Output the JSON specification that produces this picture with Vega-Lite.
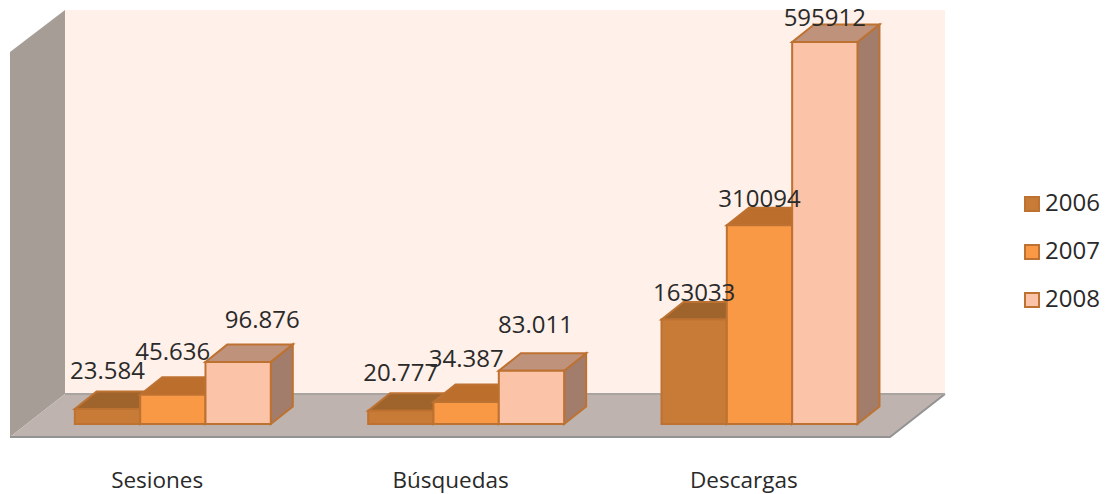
{
"$schema":"https://vega.github.io/schema/vega-lite/v6.json",
"width":1110,"height":494,"padding":0,"autosize":{"type":"none"},"background":"white",
"config":{"view":{"stroke":null},"font":"Open Sans"},
"data":{"values":[
{"category":"Sesiones","year":"2006","value":23584,"label":"23.584"},
{"category":"Sesiones","year":"2007","value":45636,"label":"45.636"},
{"category":"Sesiones","year":"2008","value":96876,"label":"96.876"},
{"category":"Búsquedas","year":"2006","value":20777,"label":"20.777"},
{"category":"Búsquedas","year":"2007","value":34387,"label":"34.387"},
{"category":"Búsquedas","year":"2008","value":83011,"label":"83.011"},
{"category":"Descargas","year":"2006","value":163033,"label":"163033"},
{"category":"Descargas","year":"2007","value":310094,"label":"310094"},
{"category":"Descargas","year":"2008","value":595912,"label":"595912"}
]},
"transform":[
{"calculate":"indexof(['Sesiones','Búsquedas','Descargas'],datum.category)+0.221+indexof(['2006','2007','2008'],datum.year)*0.2227","as":"xL"},
{"calculate":"datum.xL+0.2227","as":"xR"},
{"calculate":"datum.xL+0.11135","as":"xM"},
{"calculate":"datum.category+datum.year","as":"bar"},
{"calculate":"0","as":"zero"}
],
"layer":[
{"data":{"values":[{"u":0.1875,"u2":3.1875,"v":46800,"v2":645866}]},
 "mark":{"type":"rect","fill":"#FFF0E9"},
 "encoding":{"x":{"field":"u","type":"quantitative","scale":{"domain":[-0.0341,3.75],"nice":false,"zero":false},
   "axis":{"values":[0.5,1.5,2.5],"title":null,"domain":false,"ticks":false,"grid":false,"labelFontSize":22.5,"labelColor":"#2A2A2A","labelPadding":-25,"labelBaseline":"top","labelExpr":"['Sesiones','Búsquedas','Descargas'][floor(datum.value)]"}},
  "x2":{"field":"u2"},
  "y":{"field":"v","type":"quantitative","scale":{"domain":[-109204,661466],"nice":false,"zero":false},"axis":null},
  "y2":{"field":"v2"}}},
{"data":{"values":[{"u":0,"top":580343,"bottom":-20281},{"u":0.1875,"top":645866,"bottom":46800}]},
 "mark":{"type":"area","fill":"#A69D97"},
 "encoding":{"x":{"field":"u","type":"quantitative"},"y":{"field":"top","type":"quantitative"},"y2":{"field":"bottom"}}},
{"data":{"values":[{"v":-20281,"left":0,"right":3},{"v":46800,"left":0.1875,"right":3.1875}]},
 "mark":{"type":"area","orient":"horizontal","fill":"#BEB3AE"},
 "encoding":{"y":{"field":"v","type":"quantitative"},"x":{"field":"left","type":"quantitative"},"x2":{"field":"right"}}},
{"data":{"values":[{"u":0,"v":-20281,"o":0},{"u":3,"v":-20281,"o":1},{"u":3.1875,"v":46800,"o":2}]},
 "mark":{"type":"line","stroke":"#939393","strokeWidth":2},
 "encoding":{"x":{"field":"u","type":"quantitative"},"y":{"field":"v","type":"quantitative"},"order":{"field":"o"}}},
{"data":{"values":[{"u":0.1875,"v":46800},{"u":3.1875,"v":46800}]},
 "mark":{"type":"line","stroke":"#AAA4A0","strokeWidth":2},
 "encoding":{"x":{"field":"u","type":"quantitative"},"y":{"field":"v","type":"quantitative"}}},
{"transform":[{"calculate":"[0,1]","as":"depth"},{"flatten":["depth"]},
  {"calculate":"datum.xR+datum.depth*0.075","as":"sx"},
  {"calculate":"datum.value+datum.depth*27300","as":"sTop"},
  {"calculate":"datum.depth*27300","as":"sBase"}],
 "mark":{"type":"area","stroke":"#BE7232","strokeWidth":2,"strokeJoin":"miter"},
 "encoding":{"x":{"field":"sx","type":"quantitative"},"y":{"field":"sTop","type":"quantitative","stack":null},"y2":{"field":"sBase"},
  "detail":{"field":"bar"},
  "fill":{"field":"year","type":"nominal","legend":null,"scale":{"domain":["2006","2007","2008"],"range":["#8F5A28","#A8682F","#A27D6C"]}}}},
{"transform":[{"calculate":"[0,1]","as":"depth"},{"flatten":["depth"]},
  {"calculate":"datum.xL+datum.depth*0.075","as":"tL"},
  {"calculate":"datum.xR+datum.depth*0.075","as":"tR"},
  {"calculate":"datum.value+datum.depth*27300","as":"tY"}],
 "mark":{"type":"area","orient":"horizontal","stroke":"#BE7232","strokeWidth":2},
 "encoding":{"y":{"field":"tY","type":"quantitative"},"x":{"field":"tL","type":"quantitative","stack":null},"x2":{"field":"tR"},
  "detail":{"field":"bar"},
  "fill":{"field":"year","type":"nominal","legend":null,"scale":{"domain":["2006","2007","2008"],"range":["#9E642B","#BC6E2D","#BF937B"]}}}},
{"mark":{"type":"rect","stroke":"#BE7232","strokeWidth":2},
 "encoding":{"x":{"field":"xL","type":"quantitative"},"x2":{"field":"xR"},"y":{"field":"value","type":"quantitative"},"y2":{"field":"zero"},
  "fill":{"field":"year","type":"nominal","scale":{"domain":["2006","2007","2008"],"range":["#C87B37","#F99845","#FBC3A7"]},
   "legend":{"title":null,"orient":"none","legendX":1020,"legendY":192,"symbolType":"square","symbolSize":196,"symbolStrokeColor":"#BE7232","symbolStrokeWidth":2,"symbolOpacity":1,"labelFontSize":24,"labelColor":"#2A2A2A","labelOffset":1,"rowPadding":24}}}},
{"transform":[{"filter":"datum.category=='Descargas'&&datum.year!='2008'"}],
 "mark":{"type":"text","fontSize":24,"color":"#2A2A2A","dy":-25,"baseline":"middle"},
 "encoding":{"x":{"field":"xM","type":"quantitative"},"y":{"field":"value","type":"quantitative"},"text":{"field":"label"}}},
{"transform":[{"filter":"datum.label=='595912'"}],
 "mark":{"type":"text","fontSize":24,"color":"#2A2A2A","dy":-23,"baseline":"middle"},
 "encoding":{"x":{"field":"xM","type":"quantitative"},"y":{"field":"value","type":"quantitative"},"text":{"field":"label"}}},
{"transform":[{"filter":"datum.category!='Descargas'&&datum.year=='2006'"}],
 "mark":{"type":"text","fontSize":24,"color":"#2A2A2A","dy":-37,"baseline":"middle"},
 "encoding":{"x":{"field":"xM","type":"quantitative"},"y":{"field":"value","type":"quantitative"},"text":{"field":"label"}}},
{"transform":[{"filter":"datum.category!='Descargas'&&datum.year=='2007'"}],
 "mark":{"type":"text","fontSize":24,"color":"#2A2A2A","dy":-42,"baseline":"middle"},
 "encoding":{"x":{"field":"xM","type":"quantitative"},"y":{"field":"value","type":"quantitative"},"text":{"field":"label"}}},
{"transform":[{"filter":"datum.label=='96.876'"}],
 "mark":{"type":"text","fontSize":24,"color":"#2A2A2A","dx":24,"dy":-41,"baseline":"middle"},
 "encoding":{"x":{"field":"xM","type":"quantitative"},"y":{"field":"value","type":"quantitative"},"text":{"field":"label"}}},
{"transform":[{"filter":"datum.label=='83.011'"}],
 "mark":{"type":"text","fontSize":24,"color":"#2A2A2A","dx":4,"dy":-45,"baseline":"middle"},
 "encoding":{"x":{"field":"xM","type":"quantitative"},"y":{"field":"value","type":"quantitative"},"text":{"field":"label"}}}
],
"resolve":{"scale":{"fill":"independent"}}
}
